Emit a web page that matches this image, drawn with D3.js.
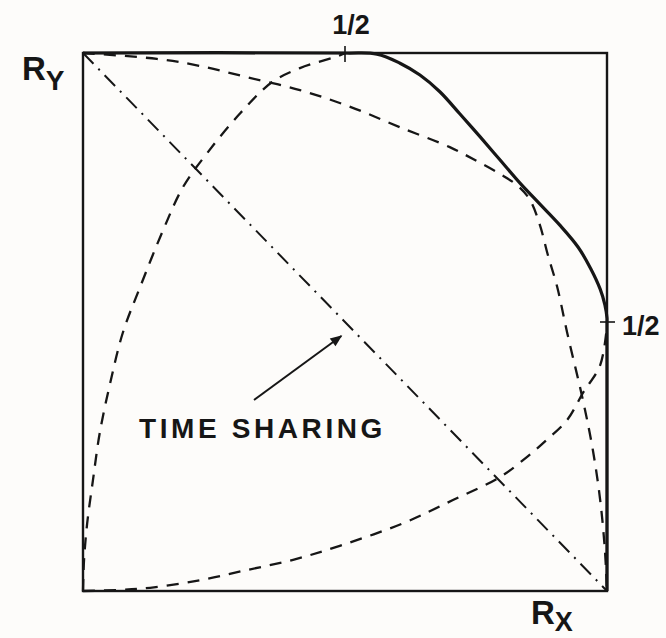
<!DOCTYPE html>
<html>
<head>
<meta charset="utf-8">
<script src="https://cdn.jsdelivr.net/npm/d3@7"></script>
<style>
  html, body { margin: 0; padding: 0; background: #fdfcfa; }
  svg { display: block; }
  text { font-family: "Liberation Sans", Arial, Helvetica, sans-serif; font-weight: bold; fill: #161616; }
</style>
</head>
<body>
<svg id="chart" width="666" height="638"></svg>
<script>
// Rate pairs (R1 as a fraction of R_X, R2 as a fraction of R_Y)

// Outer boundary of the capacity region
const boundaryR1 = [0, 0.50, 0.561, 0.605, 0.643, 0.681, 0.719, 0.758, 0.796, 0.834, 0.872, 0.910, 0.945, 0.969, 0.987, 0.996, 1.0, 1.0, 1.0];
const boundaryR2 = [1, 1.00, 0.998, 0.981, 0.959, 0.928, 0.887, 0.844, 0.801, 0.758, 0.719, 0.680, 0.639, 0.599, 0.561, 0.532, 0.507, 0.50, 0];

// Curve rising from the origin to (1/2, R_Y)
const curveAR1 = [0, 0.002, 0.008, 0.019, 0.032, 0.052, 0.076, 0.109, 0.153, 0.191, 0.237, 0.300, 0.361, 0.414, 0.483, 0.502];
const curveAR2 = [0, 0.058, 0.126, 0.206, 0.294, 0.387, 0.480, 0.565, 0.671, 0.751, 0.814, 0.888, 0.946, 0.972, 0.993, 1.0];

// Curve rising from the origin to (R_X, 1/2)
const curveBR1 = [0, 0.071, 0.128, 0.223, 0.313, 0.401, 0.490, 0.611, 0.706, 0.796, 0.847, 0.885, 0.924, 0.954, 0.987, 1.0];
const curveBR2 = [0, 0.002, 0.006, 0.020, 0.039, 0.058, 0.084, 0.126, 0.169, 0.212, 0.249, 0.281, 0.318, 0.368, 0.420, 0.494];

// Curve joining (0, R_Y) and (R_X, 0), touching the boundary near (0.83, 0.75)
const curveCR1 = [0, 0.141, 0.223, 0.313, 0.414, 0.510, 0.605, 0.700, 0.748, 0.796, 0.830, 0.853, 0.872, 0.887, 0.905, 0.924, 0.954, 0.973, 0.987, 0.996, 1.0];
const curveCR2 = [1, 0.989, 0.976, 0.955, 0.931, 0.900, 0.862, 0.825, 0.801, 0.775, 0.753, 0.727, 0.680, 0.625, 0.565, 0.480, 0.355, 0.262, 0.169, 0.076, 0];

// Time-sharing line between the two corner points
const timeShareR1 = [0, 1];
const timeShareR2 = [1, 0];

// Tick marks and labels
const xTickValues = [0.5];
const xTickLabels = ["1/2"];
const yTickValues = [0.5];
const yTickLabels = ["1/2"];
const annotation = "TIME SHARING";
const annotationAt = [0.493, 0.474]; // arrow tip, in rate units

const svg = d3.select("#chart");
const ink = "#161616";

const x = d3.scaleLinear().domain([0, 1]).range([83, 607]);
const y = d3.scaleLinear().domain([0, 1]).range([591, 53]);

const zip = (a, b) => a.map((v, i) => [v, b[i]]);
const line = d3.line().x(d => x(d[0])).y(d => y(d[1])).curve(d3.curveCatmullRom.alpha(0.5));
const straight = d3.line().x(d => x(d[0])).y(d => y(d[1]));

// Frame
svg.append("rect")
  .attr("x", x(0)).attr("y", y(1))
  .attr("width", x(1) - x(0)).attr("height", y(0) - y(1))
  .attr("fill", "none").attr("stroke", ink).attr("stroke-width", 2.4);

// Dashed curves
[[curveAR1, curveAR2], [curveBR1, curveBR2], [curveCR1, curveCR2]].forEach(([a, b]) => {
  svg.append("path")
    .attr("d", line(zip(a, b)))
    .attr("fill", "none").attr("stroke", ink)
    .attr("stroke-width", 2.3)
    .attr("stroke-dasharray", "12,9");
});

// Time-sharing dash-dot line
svg.append("path")
  .attr("d", straight(zip(timeShareR1, timeShareR2)))
  .attr("fill", "none").attr("stroke", ink)
  .attr("stroke-width", 2)
  .attr("stroke-dasharray", "15,7,2,7");

// Capacity boundary
svg.append("path")
  .attr("d", line(zip(boundaryR1, boundaryR2)))
  .attr("fill", "none").attr("stroke", ink)
  .attr("stroke-width", 3.2).attr("stroke-linejoin", "round");

// Ticks crossing the frame
xTickValues.forEach((v, i) => {
  svg.append("line")
    .attr("x1", x(v)).attr("x2", x(v))
    .attr("y1", y(1) - 7).attr("y2", y(1) + 9)
    .attr("stroke", ink).attr("stroke-width", 1.6);
  svg.append("text")
    .attr("x", x(v) + 6).attr("y", y(1) - 19)
    .attr("text-anchor", "middle").attr("font-size", 27)
    .text(xTickLabels[i]);
});
yTickValues.forEach((v, i) => {
  svg.append("line")
    .attr("x1", x(1) - 7).attr("x2", x(1) + 8)
    .attr("y1", y(v)).attr("y2", y(v))
    .attr("stroke", ink).attr("stroke-width", 1.6);
  svg.append("text")
    .attr("x", x(1) + 15).attr("y", y(v) + 13)
    .attr("text-anchor", "start").attr("font-size", 27)
    .text(yTickLabels[i]);
});

// Axis names
const ry = svg.append("text").attr("x", 22).attr("y", 80).attr("font-size", 33);
ry.append("tspan").text("R");
ry.append("tspan").attr("font-size", 28).attr("dy", 10).text("Y");

const rx = svg.append("text").attr("x", 531).attr("y", 624).attr("font-size", 33);
rx.append("tspan").text("R");
rx.append("tspan").attr("font-size", 27).attr("dy", 7).text("X");

// Annotation with arrow
const defs = svg.append("defs");
defs.append("marker")
  .attr("id", "head").attr("viewBox", "0 0 10 10")
  .attr("refX", 9).attr("refY", 5)
  .attr("markerWidth", 7).attr("markerHeight", 6)
  .attr("orient", "auto")
  .append("path").attr("d", "M0,1 L10,5 L0,9 Z").attr("fill", ink);

svg.append("line")
  .attr("x1", 254).attr("y1", 400)
  .attr("x2", x(annotationAt[0])).attr("y2", y(annotationAt[1]))
  .attr("stroke", ink).attr("stroke-width", 2)
  .attr("marker-end", "url(#head)");

svg.append("text")
  .attr("x", 139).attr("y", 438)
  .attr("font-size", 28).attr("letter-spacing", 3.6)
  .text(annotation);
</script>
</body>
</html>
